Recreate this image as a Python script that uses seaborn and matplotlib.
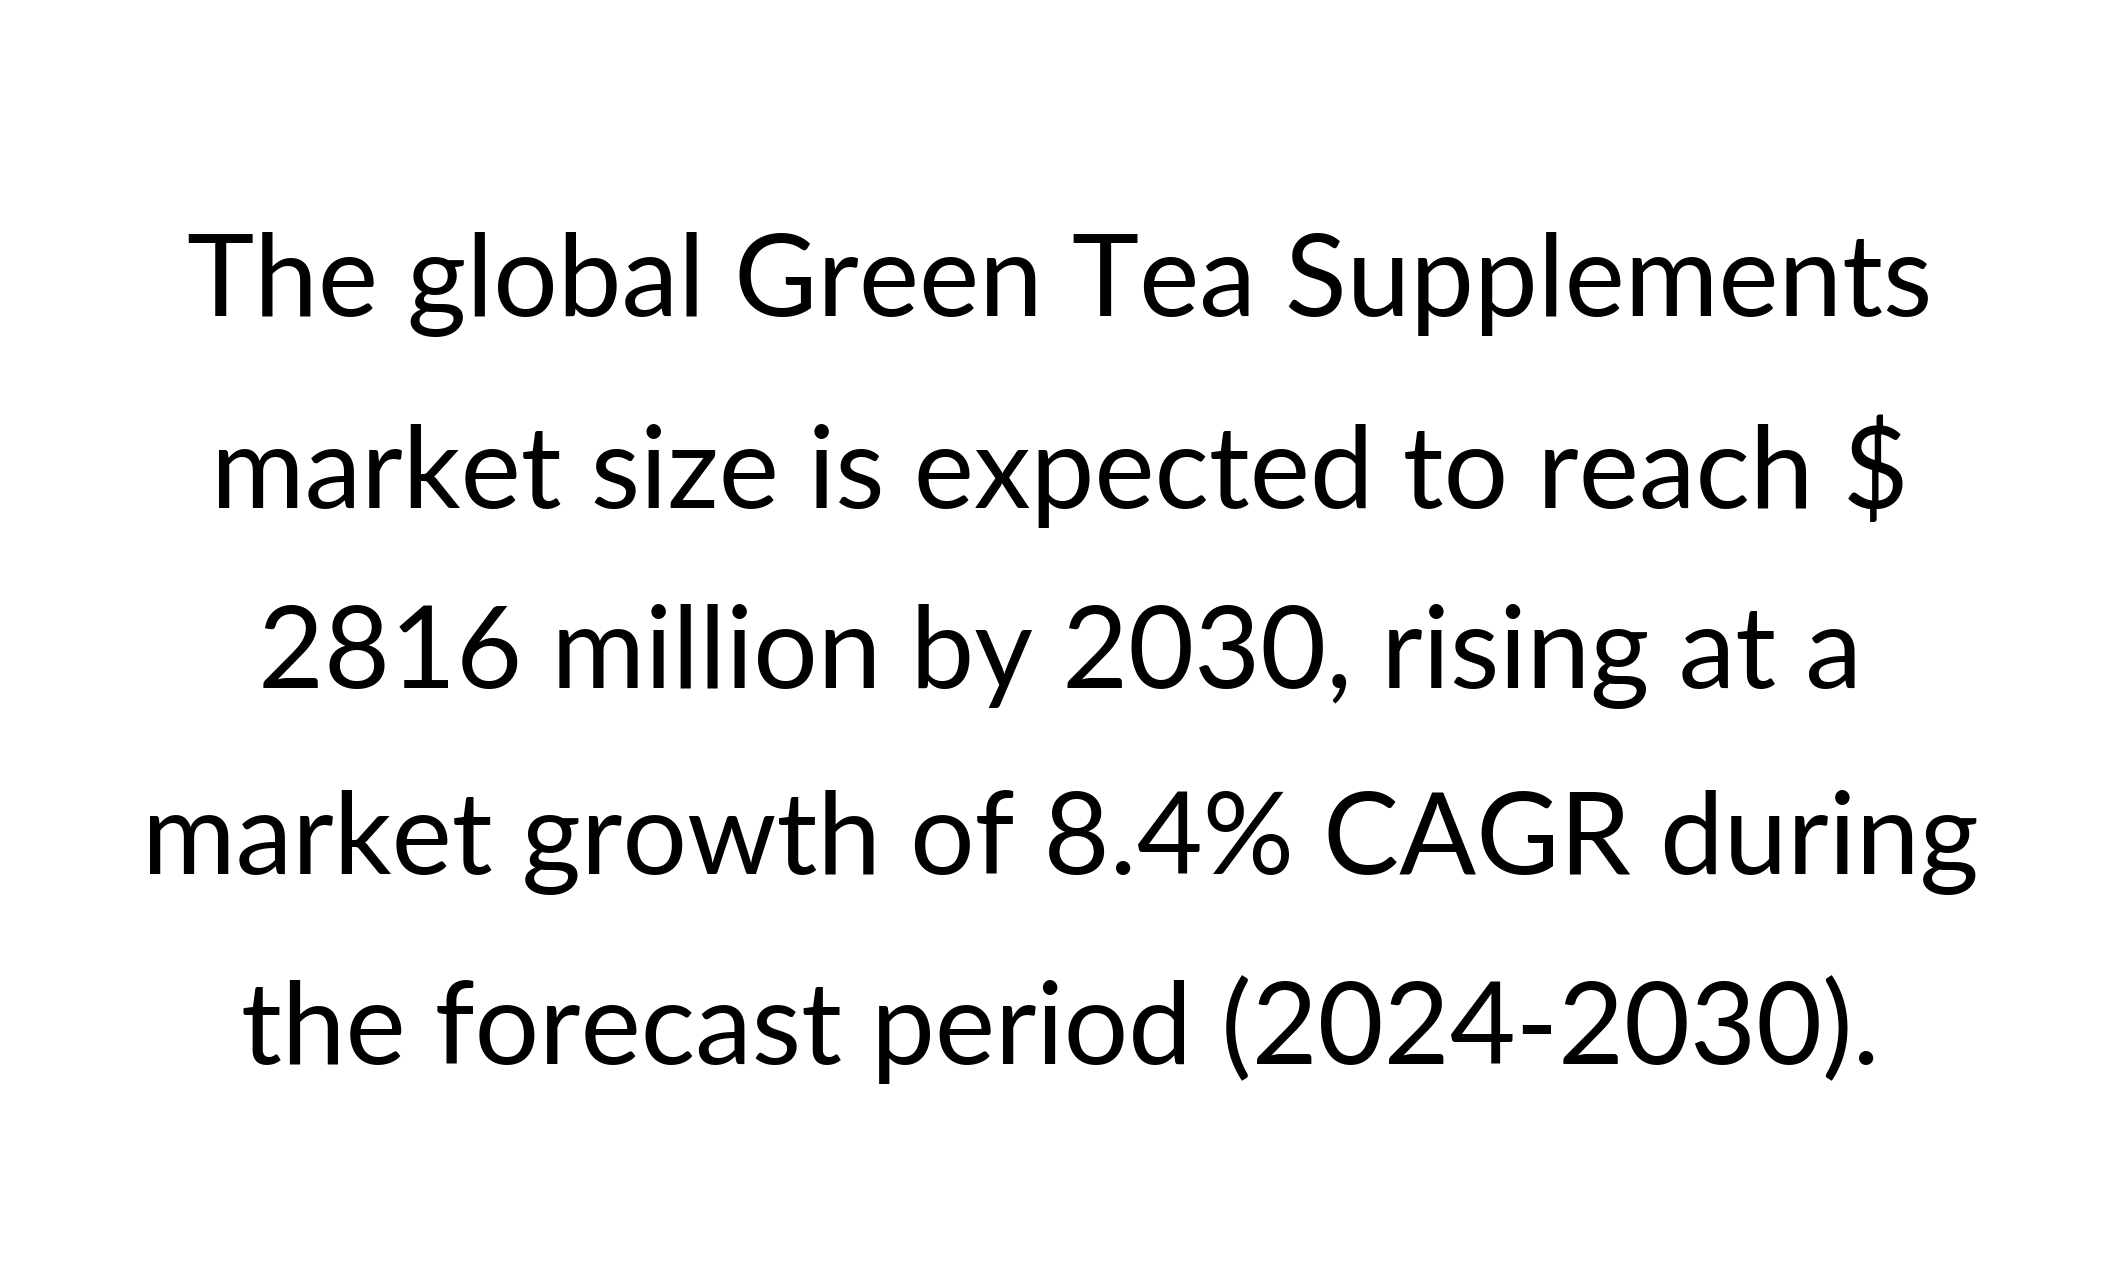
import seaborn as sns
from matplotlib import pyplot as plt

# text content of the card
lines = [
    "The global Green Tea Supplements",
    "market size is expected to reach $",
    "2816 million by 2030, rising at a",
    "market growth of 8.4% CAGR during",
    "the forecast period (2024-2030).",
]
line_y = [0.778, 0.632, 0.487, 0.342, 0.196]

sns.set_theme(style="white")
plt.rcParams['font.family'] = ['Lato', 'DejaVu Sans']

fig = plt.figure(figsize=(21.2, 12.8), dpi=100)
ax = fig.add_axes([0, 0, 1, 1])
ax.set_xlim(0, 1)
ax.set_ylim(0, 1)
ax.axis("off")

for txt, y in zip(lines, line_y):
    ax.text(0.5, y, txt, ha="center", va="center", fontsize=82, color="black")

plt.savefig("out.png", dpi=100, facecolor="white")
